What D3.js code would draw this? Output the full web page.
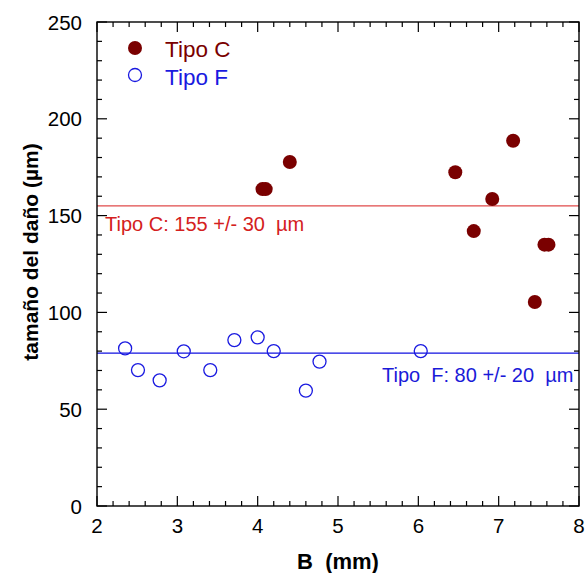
<!DOCTYPE html>
<html><head><meta charset="utf-8">
<script src="https://cdn.jsdelivr.net/npm/d3@7"></script>
<style>body{margin:0;background:#fff}svg{display:block}text{font-family:"Liberation Sans",Arial,sans-serif}</style>
</head><body><svg id="c" width="588" height="573"></svg>
<script>
const xTicks = [2,3,4,5,6,7,8];
const yTicks = [0,50,100,150,200,250];
const tipoC_B = [4.06,4.10,4.40,6.46,6.69,6.92,7.18,7.45,7.57,7.62];
const tipoC_size = [163.7,163.7,177.7,172.4,142,158.6,188.7,105.4,135,135];
const tipoF_B = [2.35,2.51,2.78,3.08,3.41,3.71,4.00,4.20,4.60,4.77,6.03];
const tipoF_size = [81.4,70.2,64.9,79.9,70.2,85.7,87.1,80,59.6,74.6,80];
const meanC = 155, meanF = 79;
const labelC = "Tipo C: 155 +/- 30  µm";
const labelF = "Tipo  F: 80 +/- 20  µm";

const svg = d3.select("#c");
const L=97,R=579,T=22,B=506;
const x = d3.scaleLinear().domain([2,8]).range([L,R]);
const y = d3.scaleLinear().domain([0,250]).range([B,T]);

const g = svg.append("g");
// mean lines
g.append("line").attr("x1",L).attr("x2",R).attr("y1",y(meanC)).attr("y2",y(meanC)).attr("stroke","#e04a4a").attr("stroke-width",1.3);
g.append("line").attr("x1",L).attr("x2",R).attr("y1",y(meanF)).attr("y2",y(meanF)).attr("stroke","#1010e0").attr("stroke-width",1.3);
g.append("text").attr("x",105).attr("y",231).attr("fill","#d42020").attr("font-size",20).attr("xml:space","preserve").text(labelC);
g.append("text").attr("x",382).attr("y",382).attr("fill","#1a1ad8").attr("font-size",20).attr("xml:space","preserve").text(labelF);

// frame
svg.append("rect").attr("x",L).attr("y",T).attr("width",R-L).attr("height",B-T).attr("fill","none").attr("stroke","#000").attr("stroke-width",1.4);

// ticks
const xMinor = d3.range(2,8.0001,0.2).map(v=>+v.toFixed(2));
const yMinor = d3.range(0,250.001,10);
const tk = svg.append("g").attr("stroke","#000").attr("stroke-width",1.2);
xMinor.forEach(v=>{
  const major = xTicks.some(t=>Math.abs(t-v)<1e-6);
  const len = major?10:5;
  tk.append("line").attr("x1",x(v)).attr("x2",x(v)).attr("y1",B).attr("y2",B-len);
  tk.append("line").attr("x1",x(v)).attr("x2",x(v)).attr("y1",T).attr("y2",T+len);
});
yMinor.forEach(v=>{
  const major = yTicks.includes(v);
  const len = major?10:5;
  tk.append("line").attr("y1",y(v)).attr("y2",y(v)).attr("x1",L).attr("x2",L+len);
  tk.append("line").attr("y1",y(v)).attr("y2",y(v)).attr("x1",R).attr("x2",R-len);
});
// tick labels
svg.append("g").selectAll("text").data(xTicks).join("text")
  .attr("x",d=>x(d)).attr("y",533).attr("text-anchor","middle").attr("font-size",20.5).text(d=>d);
svg.append("g").selectAll("text").data(yTicks).join("text")
  .attr("x",82).attr("y",d=>y(d)+7.5).attr("text-anchor","end").attr("font-size",20.5).text(d=>d);

// axis titles
svg.append("text").attr("x",338).attr("y",569).attr("text-anchor","middle").attr("font-size",22).attr("font-weight","bold").attr("xml:space","preserve").text("B  (mm)");
svg.append("text").attr("transform","translate(38,252) rotate(-90)").attr("text-anchor","middle").attr("font-size",21).attr("font-weight","bold").text("tamaño del daño (µm)");

// points
const dC = tipoC_B.map((b,i)=>({b,s:tipoC_size[i]}));
const dF = tipoF_B.map((b,i)=>({b,s:tipoF_size[i]}));
svg.append("g").selectAll("circle").data(dC).join("circle")
  .attr("cx",d=>x(d.b)).attr("cy",d=>y(d.s)).attr("r",7).attr("fill","#7a0000");
svg.append("g").selectAll("circle").data(dF).join("circle")
  .attr("cx",d=>x(d.b)).attr("cy",d=>y(d.s)).attr("r",6.5).attr("fill","none").attr("stroke","#1a1ae0").attr("stroke-width",1.3);

// legend
svg.append("circle").attr("cx",135).attr("cy",48).attr("r",7).attr("fill","#7a0000");
svg.append("text").attr("x",165).attr("y",57).attr("font-size",22.5).attr("fill","#7a0000").text("Tipo C");
svg.append("circle").attr("cx",135).attr("cy",75).attr("r",6.5).attr("fill","none").attr("stroke","#1a1ae0").attr("stroke-width",1.3);
svg.append("text").attr("x",165).attr("y",85).attr("font-size",22.5).attr("fill","#1a1ae0").text("Tipo F");
</script></body></html>
